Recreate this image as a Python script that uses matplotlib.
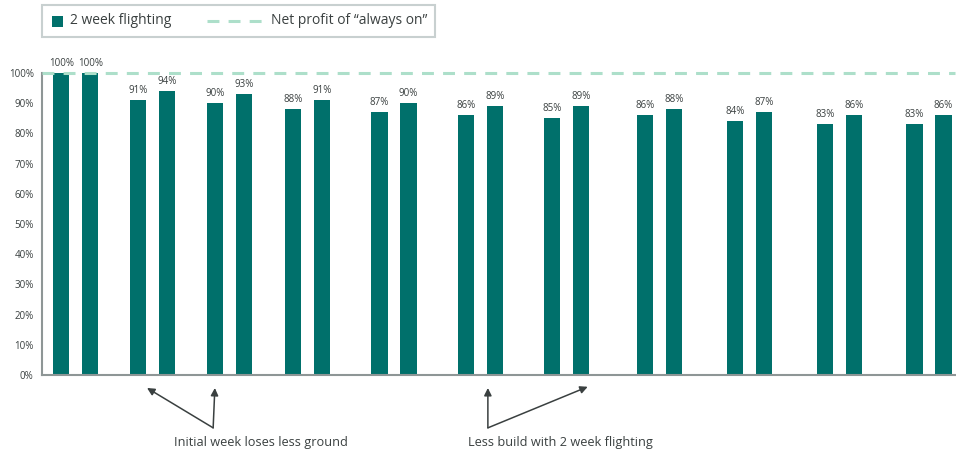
import matplotlib
matplotlib.use("Agg")
import matplotlib.pyplot as plt
from matplotlib.patches import Rectangle
from matplotlib.lines import Line2D

plt.rcParams["font.family"] = ["Open Sans", "DejaVu Sans"]

# Net profit relative to "always on", per pair of flighting periods
first_week = [100, 91, 90, 88, 87, 86, 85, 86, 84, 83, 83]
second_week = [100, 94, 93, 91, 90, 89, 89, 88, 87, 86, 86]
y_ticks = [0, 10, 20, 30, 40, 50, 60, 70, 80, 90, 100]
always_on = 100

# horizontal placement of each pair along the axis
group_x = [0, 0.9, 1.8, 2.72, 3.73, 4.74, 5.75, 6.84, 7.9, 8.95, 10.0]

TEAL = "#00706b"
MINT = "#addfca"
TEXT = "#3a4040"
AXIS = "#8e9696"

fig = plt.figure(figsize=(9.56, 4.54), dpi=100)
ax = fig.add_axes([42 / 956, 79 / 454, 913 / 956, 302 / 454])

w = 0.19
off = 0.17
x1 = [g - off for g in group_x]
x2 = [g + off for g in group_x]

b1 = ax.bar(x1, first_week, w, color=TEAL, zorder=2)
b2 = ax.bar(x2, second_week, w, color=TEAL, zorder=2)

for bars, vals in ((b1, first_week), (b2, second_week)):
    for rect, v in zip(bars, vals):
        ax.annotate(f"{v}%", (rect.get_x() + rect.get_width() / 2, v),
                    xytext=(0, 3), textcoords="offset points",
                    ha="center", va="bottom", fontsize=7, color=TEXT)

ax.axhline(always_on, color=MINT, lw=2.2, dashes=(3.9, 3.0), zorder=3,
           clip_on=False)

ax.set_xlim(-0.396, 10.305)
ax.set_ylim(0, 100)
ax.set_yticks(y_ticks)
ax.set_yticklabels([f"{t}%" for t in y_ticks])
ax.tick_params(axis="y", length=0, labelsize=7, labelcolor=TEXT, pad=6)
ax.set_xticks([])
for s in ("top", "right"):
    ax.spines[s].set_visible(False)
for s in ("left", "bottom"):
    ax.spines[s].set_color(AXIS)
    ax.spines[s].set_linewidth(1.5)

# Callout arrows
arrow = dict(arrowstyle="-|>", color=TEXT, lw=1.1, mutation_scale=11,
             shrinkA=0, shrinkB=0)
tip_y, base_y, label_y = -4.3, -17.5, -22.5

base1 = x1[2] - 0.02
for tip in (x1[1] + 0.105, x1[2]):
    ax.annotate("", xy=(tip, tip_y), xytext=(base1, base_y),
                arrowprops=arrow, annotation_clip=False)
ax.text(x1[2] + 0.54, label_y, "Initial week loses less ground", ha="center",
        va="center", fontsize=9.2, color=TEXT, clip_on=False)

base2 = x2[5] - 0.08
for tip, ty in ((base2, tip_y), (x2[6] + 0.08, tip_y + 0.4)):
    ax.annotate("", xy=(tip, ty), xytext=(base2, base_y),
                arrowprops=arrow, annotation_clip=False)
ax.text(x2[5] + 0.77, label_y, "Less build with 2 week flighting", ha="center",
        va="center", fontsize=9.2, color=TEXT, clip_on=False)

# Legend box
def fx(px):
    return px / 956

def fy(py):
    return 1 - py / 454

fig.add_artist(Rectangle((fx(42), fy(37)), fx(393), 32 / 454,
                         transform=fig.transFigure, fill=False,
                         ec="#c8d0d0", lw=1.5))
fig.add_artist(Rectangle((fx(52), fy(27)), fx(11), 11 / 454,
                         transform=fig.transFigure, fc=TEAL, ec="none"))
fig.text(fx(70), fy(21), "2 week flighting", ha="left", va="center",
         fontsize=10, color=TEXT)
fig.add_artist(Line2D([fx(207), fx(265)], [fy(21), fy(21)],
                      transform=fig.transFigure, color=MINT, lw=2.2,
                      dashes=(3.9, 3.0)))
fig.text(fx(271), fy(21), "Net profit of \u201calways on\u201d", ha="left",
         va="center", fontsize=10, color=TEXT)

fig.savefig("out.png", dpi=100)
